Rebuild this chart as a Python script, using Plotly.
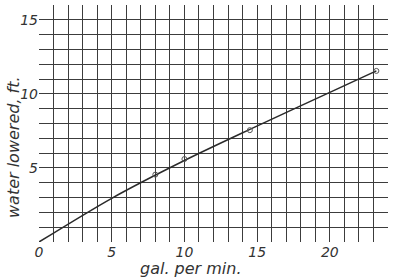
import plotly.graph_objects as go

# Data
curve_x = [0, 5, 10, 14.5, 20, 23.2]
curve_y = [0, 2.95, 5.5, 7.6, 10.1, 11.55]
point_x = [8, 10, 14.5, 23.2]
point_y = [4.55, 5.6, 7.55, 11.55]
x_ticks = [0, 5, 10, 15, 20]
x_tick_text = ["0", "5", "10", "15", "20"]
y_ticks = [5, 10, 15]
y_tick_text = ["5", "10", "15"]
x_title = "gal. per min."
y_title = "water lowered, ft."

ink = "#3c3c3c"
font_family = "DejaVu Sans"

fig = go.Figure()
fig.add_trace(go.Scatter(
    x=curve_x, y=curve_y, mode="lines",
    line=dict(color="#2a2a2a", width=1.5, shape="spline", smoothing=0.8),
    hoverinfo="skip", showlegend=False))
fig.add_trace(go.Scatter(
    x=point_x, y=point_y, mode="markers",
    marker=dict(symbol="circle-open", size=5, color="#555", line=dict(width=1)),
    showlegend=False))

axis_common = dict(
    showline=False, zeroline=False, ticks="",
    showgrid=True, gridcolor=ink, gridwidth=1.4,
    minor=dict(dtick=1, showgrid=True, gridcolor=ink, gridwidth=1.2),
    tickfont=dict(family=font_family, size=14, color="#333", style="italic"),
    fixedrange=True,
)

fig.update_xaxes(range=[0, 24], tickmode="array", tickvals=x_ticks,
                 ticktext=x_tick_text, dtick=5, **axis_common)
fig.update_yaxes(range=[0, 16], tickmode="array", tickvals=y_ticks,
                 ticktext=y_tick_text, dtick=5, **axis_common)

fig.add_annotation(text=x_title, xref="paper", yref="paper",
                   x=(191 - 39) / 349, y=-(268 - 242) / 237,
                   xanchor="center", yanchor="middle", showarrow=False,
                   font=dict(family=font_family, size=16, color="#333", style="italic"))
fig.add_annotation(text=y_title, xref="paper", yref="paper",
                   x=-(39 - 13) / 349, y=(242 - 147) / 237, textangle=-90,
                   xanchor="center", yanchor="middle", showarrow=False,
                   font=dict(family=font_family, size=16, color="#333", style="italic"))

fig.update_layout(
    width=393, height=278,
    margin=dict(l=39, r=5, t=5, b=36, autoexpand=False),
    paper_bgcolor="white", plot_bgcolor="white",
)

fig.write_html("out.html", config={"displayModeBar": False},
               post_script="document.body.style.margin='0';document.body.style.padding='0';")
